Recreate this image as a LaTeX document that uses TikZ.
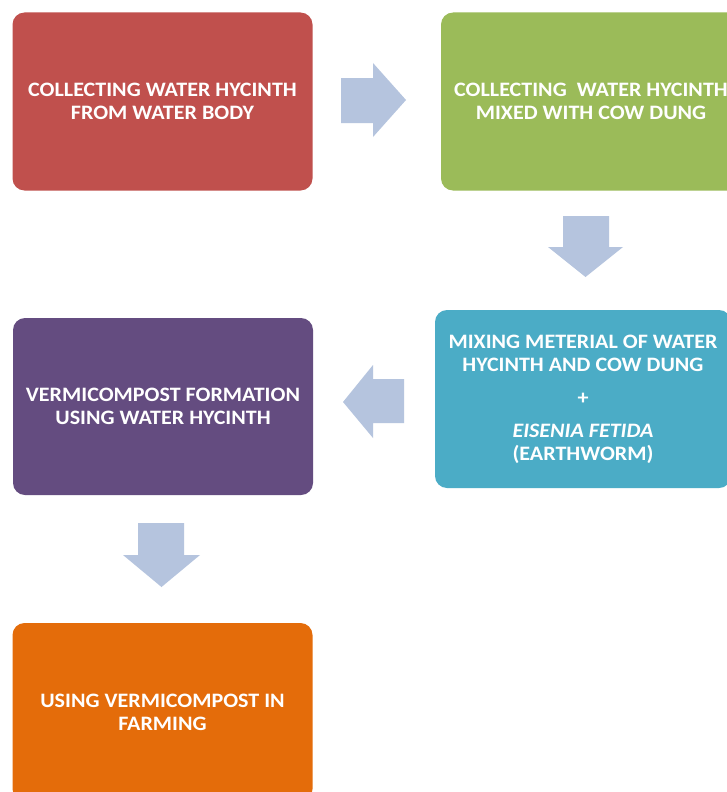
\documentclass[tikz,border=0pt]{standalone}
\usepackage{fontspec}
\setmainfont{Carlito}[FakeStretch=1.075]
\begin{document}
\begin{tikzpicture}[x=1pt,y=-1pt,
  box/.style={rounded corners=12pt, minimum width=300pt, minimum height=178pt,
    inner sep=0pt, text=white, align=center,
    font=\fontsize{20.5}{23}\selectfont\bfseries},
  blockarrow/.style={fill=arrowc}]
\definecolor{redc}{HTML}{C0504D}
\definecolor{greenc}{HTML}{9BBB59}
\definecolor{bluec}{HTML}{4BACC6}
\definecolor{purplec}{HTML}{644C80}
\definecolor{orangec}{HTML}{E46C0A}
\definecolor{arrowc}{HTML}{B5C4DE}
\fill[white] (0,0) rectangle (727,792);
\useasboundingbox (0,0) rectangle (727,792);
\clip (0,0) rectangle (727,792);
\node[box, fill=redc] (b1) at (162.5,101.5) {COLLECTING WATER HYCINTH\\FROM WATER BODY};
\node[box, fill=greenc] (b2) at (591,101.5) {COLLECTING \ WATER HYCINTH\\MIXED WITH COW DUNG};
\node[box, fill=bluec, minimum width=296pt] (b3) at (583,399) {MIXING METERIAL OF WATER\\HYCINTH AND COW DUNG\\[10pt]+\\[10pt]{\bfseries\itshape EISENIA FETIDA}\\{\bfseries (EARTHWORM)}};
\node[box, fill=purplec, minimum height=177pt] (b4) at (163,406.5) {VERMICOMPOST FORMATION\\USING WATER HYCINTH};
\node[box, fill=orangec] (b5) at (162.5,712) {USING VERMICOMPOST IN\\FARMING};
% block arrows
\coordinate (a1) at (406,100);
\fill[blockarrow] (341,78) -- (373,78) -- (373,63) -- (a1) -- (373,137) -- (373,123) -- (341,123) -- cycle;
\coordinate (a2) at (585.5,277);
\fill[blockarrow] (563,216) -- (609,216) -- (609,247) -- (623,247) -- (a2) -- (548,247) -- (563,247) -- cycle;
\coordinate (a3) at (343,402);
\fill[blockarrow] (404,379) -- (373,379) -- (373,365) -- (a3) -- (373,438) -- (373,423) -- (404,423) -- cycle;
\coordinate (a4) at (161.5,587);
\fill[blockarrow] (138,523) -- (184,523) -- (184,555) -- (200,555) -- (a4) -- (123,555) -- (138,555) -- cycle;
\end{tikzpicture}
\end{document}
